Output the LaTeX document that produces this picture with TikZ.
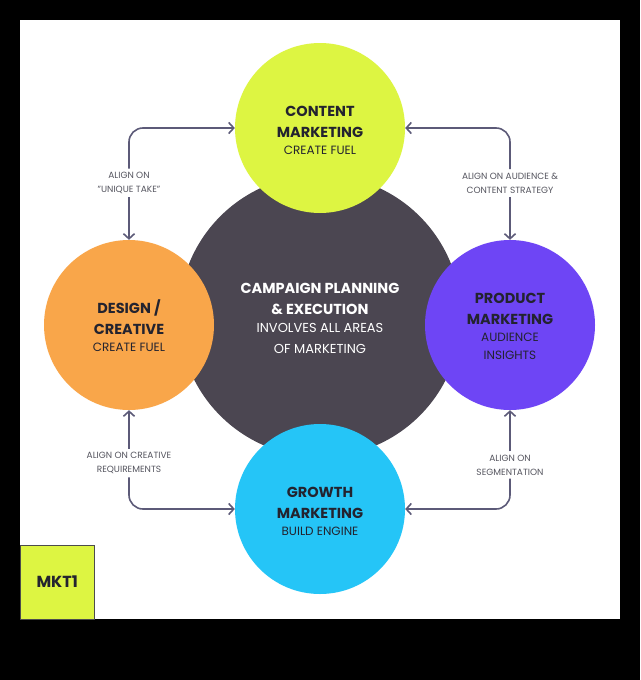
\documentclass[tikz,border=0pt]{standalone}
\usepackage{fontspec}
\setmainfont{Poppins}
\usetikzlibrary{arrows.meta}
\definecolor{lime}{HTML}{DDF542}
\definecolor{orng}{HTML}{F9A64A}
\definecolor{purp}{HTML}{6E45F5}
\definecolor{cyn}{HTML}{25C5F7}
\definecolor{dk}{HTML}{4B4651}
\definecolor{txt}{HTML}{23232F}
\definecolor{arr}{HTML}{5C5A78}
\definecolor{lbl}{HTML}{55555F}
\newcommand\subf[1]{\mdseries\fontsize{#1}{18}\selectfont}
\begin{document}
\begin{tikzpicture}[x=1pt,y=-1pt,
  circ/.style={circle,minimum size=170pt,inner sep=0pt},
  title/.style={font=\fontsize{14.5}{21}\selectfont\bfseries,align=center,text=txt},
  lab/.style={font=\fontsize{9}{14}\selectfont,align=center,text=lbl},
  con/.style={draw=arr,line width=1.6pt,rounded corners=14pt,-{Straight Barb[length=5pt,width=11pt]}}]
\fill[black] (0,0) rectangle (640,680);
\fill[white] (20,20) rectangle (620,619);
\node[circ,fill=dk,minimum size=282pt] (mid) at (320,316) {};
\node[circ,fill=lime] (top) at (320,128) {};
\node[circ,fill=orng] (left) at (129,325) {};
\node[circ,fill=purp] (right) at (510,325) {};
\node[circ,fill=cyn] (bot) at (320,509) {};
\node[title] at (320,130) {CONTENT\\MARKETING\\[-4pt]\subf{12}CREATE FUEL};
\node[title,text=white] at (320,318) {CAMPAIGN PLANNING\\\& EXECUTION\\[-3pt]\subf{13}INVOLVES ALL AREAS\\\subf{13}OF MARKETING};
\node[title] at (129,326) {DESIGN /\\CREATIVE\\[-4pt]\subf{12}CREATE FUEL};
\node[title] at (510,326) {PRODUCT\\MARKETING\\[-4pt]\subf{12}AUDIENCE\\[-3pt]\subf{12}INSIGHTS};
\node[title] at (320,511) {GROWTH\\MARKETING\\[-4pt]\subf{12}BUILD ENGINE};
\node[lab] (l1) at (129,183) {ALIGN ON\\"UNIQUE TAKE"};
\node[lab] (l2) at (510,183) {ALIGN ON AUDIENCE \&\\CONTENT STRATEGY};
\node[lab] (l3) at (129,463) {ALIGN ON CREATIVE\\REQUIREMENTS};
\node[lab] (l4) at (510,465) {ALIGN ON\\SEGMENTATION};
\coordinate (c1) at (129,128); \coordinate (c2) at (510,128);
\coordinate (c3) at (129,509); \coordinate (c4) at (510,509);
\draw[con] (l1.north) -- (c1) -- (top.west);
\draw[con] (l1.south) -- (left.north);
\draw[con] (l2.north) -- (c2) -- (top.east);
\draw[con] (l2.south) -- (right.north);
\draw[con] (l3.south) -- (c3) -- (bot.west);
\draw[con] (l3.north) -- (left.south);
\draw[con] (l4.south) -- (c4) -- (bot.east);
\draw[con] (l4.north) -- (right.south);
\node[draw=black!70,fill=lime,minimum size=74pt,inner sep=0pt,anchor=south west,font=\fontsize{16}{18}\selectfont\bfseries,text=txt] (mkt) at (20,619) {MKT1};
\end{tikzpicture}
\end{document}
